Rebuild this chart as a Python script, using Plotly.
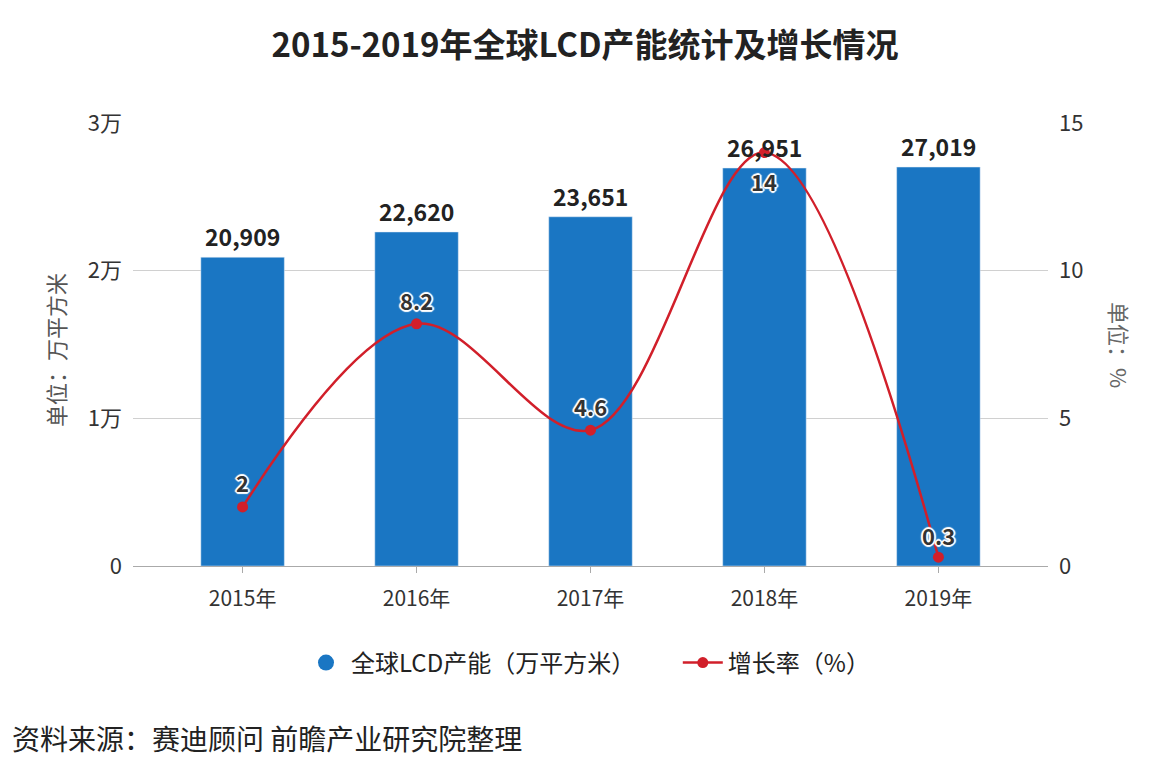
import plotly.graph_objects as go

years = ["2015年", "2016年", "2017年", "2018年", "2019年"]
capacity = [20909, 22620, 23651, 26951, 27019]
growth = [2, 8.2, 4.6, 14, 0.3]
growth_labels = ["2", "8.2", "4.6", "14", "0.3"]
left_ticks = [0, 10000, 20000, 30000]
left_ticktext = ["0", "1万", "2万", "3万"]
right_ticks = [0, 5, 10, 15]

title_text = "2015-2019年全球LCD产能统计及增长情况"
source_text = "资料来源：赛迪顾问 前瞻产业研究院整理"
bar_name = "全球LCD产能（万平方米）"
line_name = "增长率（%）"

FONT = "Noto Sans CJK SC, Noto Sans, sans-serif"
BLUE = "#1a76c3"
RED = "#d11f2a"

W, H = 1167, 779
OFF = 8  # page body margin
# desired plot area in screen pixels
SX0, SX1, SY0, SY1 = 133, 1048, 123, 566
L = SX0 - OFF
R = W - (SX1 - OFF)
T = SY0 - OFF
B = H - (SY1 - OFF)
pw = SX1 - SX0
ph = SY1 - SY0

def px_x(x):
    return (x - SX0) / pw

def px_y(y):
    return (SY1 - y) / ph

fig = go.Figure()

fig.add_trace(go.Bar(
    x=list(range(len(years))), y=capacity, marker_color=BLUE, width=0.48,
    showlegend=False, hoverinfo="skip", yaxis="y"))

# legend proxy for bar (round marker as in reference)
fig.add_trace(go.Scatter(
    x=[None], y=[None], mode="markers", name=bar_name + "\u00a0" * 7,
    marker=dict(symbol="circle", size=20, color=BLUE), yaxis="y"))

fig.add_trace(go.Scatter(
    x=list(range(len(years))), y=growth, name=line_name, yaxis="y2",
    mode="lines+markers", line=dict(color=RED, width=2.5, shape="spline", smoothing=1.0),
    marker=dict(size=11, color=RED), hoverinfo="skip"))

for i, v in enumerate(capacity):
    fig.add_annotation(x=i, y=v, xref="x", yref="y", text=f"<b>{v:,}</b>", showarrow=False,
                       yanchor="middle", yshift=21,
                       font=dict(family=FONT, size=23, color="#222222"))

label_shift = [25, 24, 24, -28, 22]
halo = ("1px 1px 1px white, -1px -1px 1px white, 1px -1px 1px white, -1px 1px 1px white, "
        "2px 0 1px white, -2px 0 1px white, 0 2px 1px white, 0 -2px 1px white")
for i, (g, t) in enumerate(zip(growth, growth_labels)):
    fig.add_annotation(x=i, y=g, xref="x", yref="y2", text=t, showarrow=False,
                       yanchor="middle", yshift=label_shift[i],
                       font=dict(family=FONT, size=22, color="#333333", weight="bold", shadow=halo))

fig.add_annotation(x=px_x(55), y=px_y(350), xref="paper", yref="paper", text="单位：万平方米",
                   xanchor="center", yanchor="middle",
                   textangle=-90, showarrow=False, font=dict(family=FONT, size=22, color="#555555"))
fig.add_annotation(x=px_x(1120), y=px_y(345), xref="paper", yref="paper", text="单位：%",
                   xanchor="center", yanchor="middle",
                   textangle=90, showarrow=False, font=dict(family=FONT, size=22, color="#666666"))
fig.add_annotation(x=px_x(10), y=px_y(738), xref="paper", yref="paper", text=source_text,
                   xanchor="left", yanchor="middle", showarrow=False,
                   font=dict(family=FONT, size=28, color="#222222"))

fig.update_layout(
    width=W, height=H, margin=dict(l=L, r=R, t=T, b=B),
    paper_bgcolor="white", plot_bgcolor="white",
    font=dict(family=FONT, size=20, color="#333333"),
    title=dict(text=f"<b>{title_text}</b>", x=(585 - OFF) / W, xanchor="center",
               y=1 - (45 - OFF) / H, yanchor="middle",
               font=dict(family=FONT, size=33, color="#222222")),
    xaxis=dict(tickvals=list(range(len(years))), ticktext=years, range=[-0.63, 4.63],
               showgrid=False, zeroline=False, showline=True, linecolor="#aaaaaa", linewidth=1,
               ticks="outside", ticklen=6, tickcolor="#aaaaaa", ticklabelstandoff=8,
               tickfont=dict(family=FONT, size=21, color="#333333")),
    yaxis=dict(range=[0, 30000], tickvals=left_ticks, ticktext=left_ticktext,
               showgrid=True, gridcolor="#d0d0d0", gridwidth=1, zeroline=False,
               tickfont=dict(family=FONT, size=22, color="#333333"), ticklabelstandoff=10),
    yaxis2=dict(range=[0, 15], tickvals=right_ticks, overlaying="y", side="right",
                showgrid=False, zeroline=False,
                tickfont=dict(family=FONT, size=22, color="#333333"), ticklabelstandoff=10),
    legend=dict(orientation="h", x=px_x(588), xanchor="center", y=px_y(663), yanchor="middle",
                font=dict(family=FONT, size=24, color="#222222"), itemwidth=40),
)

fig.write_html("out.html")
